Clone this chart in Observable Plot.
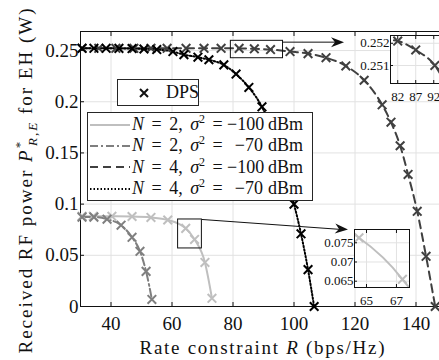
<!DOCTYPE html>
<html><head><meta charset="utf-8">
<script src="https://cdn.jsdelivr.net/npm/d3@7"></script>
<script src="https://cdn.jsdelivr.net/npm/@observablehq/plot@0.6"></script>
<style>
html,body{margin:0;padding:0;background:#fff;overflow:hidden;}
#wrap{position:relative;width:439px;height:360px;overflow:hidden;font-family:"Liberation Serif","Times New Roman","DejaVu Serif",serif;color:#111;}
#wrap > svg, #wrap > div{position:absolute;}
#wrap svg{max-width:none !important;}
.leg{background:#fff;border:1px solid #262626;box-sizing:border-box;font-size:18px;}
.row{position:absolute;left:0;height:21px;display:flex;align-items:center;white-space:nowrap;}
.row svg{margin-left:2px;margin-right:2px;flex:none;}
.p1{display:inline-block;width:95px;word-spacing:3px;}
.num{display:inline-block;width:36px;text-align:right;}
.unit{margin-left:5px;}
i{font-style:italic;}
</style></head><body><div id="wrap"></div>
<script>
// ---------- data ----------
const xTicks = [40, 60, 80, 100, 120, 140];
const yTicks = [0, 0.05, 0.1, 0.15, 0.2, 0.25];
const yTickLabels = ["0", "0.05", "0.1", "0.15", "0.2", "0.25"];

// N = 2, sigma^2 = -100 dBm
const R_N2_m100 = [30.5, 34.2, 40.3, 46.9, 53.1, 58.6, 64.5, 67.4, 70.8, 73.1];
const P_N2_m100 = [0.0882, 0.0882, 0.0881, 0.0879, 0.0870, 0.0845, 0.0763, 0.0655, 0.0430, 0.0080];
// N = 2, sigma^2 = -70 dBm
const R_N2_m70 = [30.5, 34.4, 38.7, 43.3, 46.9, 49.5, 51.5, 53.4];
const P_N2_m70 = [0.0873, 0.0873, 0.0853, 0.0794, 0.0676, 0.0539, 0.0343, 0.0069];
// N = 4, sigma^2 = -100 dBm
const R_N4_m100 = [30.5, 36, 41.6, 47.5, 53.1, 58.4, 64.6, 70.5, 76.1, 82, 87, 92.3, 98.7, 104.6, 110.5, 117, 123, 128.9, 131.8, 134.8, 137.4, 140.4, 143.3, 146.3];
const P_N4_m100 = [0.2522, 0.2522, 0.2522, 0.2522, 0.2522, 0.2522, 0.2522, 0.2522, 0.2522, 0.2521, 0.2517, 0.2510, 0.249, 0.247, 0.243, 0.235, 0.221, 0.197, 0.180, 0.157, 0.129, 0.093, 0.049, 0];
// N = 4, sigma^2 = -70 dBm
const R_N4_m70 = [30.5, 34.4, 38.4, 42.6, 46.9, 50.8, 55, 60.3, 63.9, 68.5, 72.1, 77, 81, 85.2, 89.5, 93.5, 97, 100, 102.3, 104.6, 106.6];
const P_N4_m70 = [0.2522, 0.2522, 0.2522, 0.2521, 0.2519, 0.2515, 0.251, 0.249, 0.246, 0.2435, 0.241, 0.236, 0.227, 0.214, 0.195, 0.167, 0.132, 0.100, 0.071, 0.036, 0];

const legendN = ["2", "2", "4", "4"];
const legendSigma = ["−100", "−70", "−100", "−70"];

// zoom boxes (data coordinates) and arrows
const zoomBoxR1 = [79.3, 96.4], zoomBoxP1 = [0.2425, 0.2595];
const zoomBoxR2 = [62, 69.8], zoomBoxP2 = [0.0567, 0.0850];
const arrowR1 = [96.4, 116.4], arrowP1 = [0.2582, 0.2582];
const arrowR2 = [69.8, 117.7], arrowP2 = [0.0850, 0.0752];

// inset domains and ticks
const inset1X = [80, 97.2], inset1Y = [0.25019, 0.25235];
const inset1XTicks = [82, 87, 92], inset1YTicks = [0.251, 0.252];
const inset2X = [64.2, 67.87], inset2Y = [0.06336, 0.07846];
const inset2XTicks = [65, 67], inset2YTicks = [0.065, 0.07, 0.075];

// ---------- styles ----------
const styles = [
  {R: R_N2_m100, P: P_N2_m100, color: "#bfbfbf", dash: null},
  {R: R_N2_m70, P: P_N2_m70, color: "#7f7f7f", dash: "8,3,2,3"},
  {R: R_N4_m100, P: P_N4_m100, color: "#404040", dash: "8,5"},
  {R: R_N4_m70, P: P_N4_m70, color: "#000000", dash: "1.5,2"}
];
const toRows = s => s.R.map((r, i) => ({R: r, P: s.P[i]}));

function seriesMarks(list, clip) {
  const marks = [];
  for (const s of list) {
    marks.push(Plot.line(toRows(s), {x: "R", y: "P", stroke: s.color, strokeWidth: 2, strokeDasharray: s.dash, curve: "monotone-x", clip}));
  }
  for (const s of list) {
    marks.push(Plot.dot(toRows(s), {x: "R", y: "P", symbol: "times", r: 4, stroke: s.color, strokeWidth: 2, clip}));
  }
  return marks;
}

const arrowHead = {
  draw(ctx) { ctx.moveTo(0, 0); ctx.lineTo(-13, -5); ctx.lineTo(-9, 0); ctx.lineTo(-13, 5); ctx.closePath(); }
};

const wrap = document.getElementById("wrap");
const fontStack = "'Liberation Serif', 'Times New Roman', 'DejaVu Serif', serif";

const main = Plot.plot({
  width: 450, height: 360,
  marginLeft: 80, marginRight: 4, marginTop: 31, marginBottom: 54,
  style: {fontFamily: fontStack, fontSize: "19px", color: "#111", background: "transparent", overflow: "visible", maxWidth: "none"},
  x: {domain: [30, 150]},
  y: {domain: [0, 0.2686]},
  marks: [
    Plot.gridX(xTicks, {stroke: "#e2e2e2", strokeOpacity: 1}),
    Plot.gridY(yTicks, {stroke: "#e2e2e2", strokeOpacity: 1}),
    Plot.frame({stroke: "#111"}),
    Plot.axisX(xTicks, {anchor: "bottom", tickSize: -4, tickPadding: 14, label: null, tickFormat: d => String(d)}),
    Plot.axisX(xTicks, {anchor: "top", tickSize: -4, label: null, tickFormat: () => ""}),
    Plot.axisY(yTicks, {anchor: "left", tickSize: -4, tickPadding: 6, label: null, tickFormat: d => yTickLabels[yTicks.indexOf(d)]}),
    ...seriesMarks(styles, false),
    Plot.rect([{x1: zoomBoxR1[0], x2: zoomBoxR1[1], y1: zoomBoxP1[0], y2: zoomBoxP1[1]},
               {x1: zoomBoxR2[0], x2: zoomBoxR2[1], y1: zoomBoxP2[0], y2: zoomBoxP2[1]}],
      {x1: "x1", x2: "x2", y1: "y1", y2: "y2", fill: "none", stroke: "#111", strokeWidth: 1}),
    Plot.link([{x1: arrowR1[0], x2: arrowR1[1] - 2, y1: arrowP1[0], y2: arrowP1[1]},
               {x1: arrowR2[0], x2: arrowR2[1] - 2, y1: arrowP2[0], y2: arrowP2[1]}],
      {x1: "x1", x2: "x2", y1: "y1", y2: "y2", stroke: "#111", strokeWidth: 1}),
    Plot.dot([{x: arrowR1[1], y: arrowP1[1], a: 0}, {x: arrowR2[1], y: arrowP2[1], a: 4}],
      {x: "x", y: "y", symbol: arrowHead, rotate: "a", fill: "#111", stroke: "none", r: 5})
  ]
});
main.style.left = "0px"; main.style.top = "0px"; main.style.maxWidth = "none";
wrap.appendChild(main);

// axis labels with math formatting
const svg = d3.select(main);
const yl = svg.append("text").attr("transform", "translate(32,181) rotate(-90)")
  .attr("text-anchor", "middle").attr("font-size", 19).attr("fill", "#111")
  .attr("textLength", 345).attr("lengthAdjust", "spacing");
yl.append("tspan").text("Received RF power ");
yl.append("tspan").attr("font-style", "italic").text("P");
yl.append("tspan").attr("font-size", 13).attr("dy", -8).text("*");
yl.append("tspan").attr("font-size", 13).attr("font-style", "italic").attr("dx", -6).attr("dy", 13).text("R,E");
yl.append("tspan").attr("dy", -5).text(" for EH (W)");

const xl = svg.append("text").attr("x", 262).attr("y", 354)
  .attr("text-anchor", "middle").attr("font-size", 19).attr("fill", "#111")
  .attr("textLength", 245).attr("lengthAdjust", "spacing");
xl.append("tspan").text("Rate constraint ");
xl.append("tspan").attr("font-style", "italic").text("R");
xl.append("tspan").text(" (bps/Hz)");

// insets
function inset(opts) {
  const p = Plot.plot({
    width: opts.width, height: opts.height,
    marginLeft: 40, marginRight: opts.mr, marginTop: 4, marginBottom: opts.height - 4 - opts.ph,
    style: {fontFamily: fontStack, fontSize: "13px", color: "#111", background: "transparent", overflow: "visible", maxWidth: "none"},
    x: {domain: opts.xd}, y: {domain: opts.yd},
    marks: [
      Plot.frame({fill: "white", stroke: "none"}),
      Plot.gridX(opts.xt, {stroke: "#e2e2e2", strokeOpacity: 1}),
      Plot.gridY(opts.yt, {stroke: "#e2e2e2", strokeOpacity: 1}),
      ...seriesMarks(opts.series, true),
      Plot.frame({stroke: "#111"}),
      Plot.axisX(opts.xt, {anchor: "bottom", tickSize: -3, tickPadding: 11, label: null, tickFormat: d => String(d)}),
      Plot.axisX(opts.xt, {anchor: "top", tickSize: -3, label: null, tickFormat: () => ""}),
      Plot.axisY(opts.yt, {anchor: "left", tickSize: -3, tickPadding: 4, label: null, tickFormat: d => String(d)})
    ]
  });
  p.style.left = opts.left + "px"; p.style.top = opts.top + "px"; p.style.maxWidth = "none";
  wrap.appendChild(p);
}
inset({left: 350, top: 31, width: 102, height: 70, ph: 48, mr: 0, xd: inset1X, yd: inset1Y, xt: inset1XTicks, yt: inset1YTicks, series: [styles[2]]});
inset({left: 314, top: 225, width: 96, height: 80, ph: 58, mr: 1, xd: inset2X, yd: inset2Y, xt: inset2XTicks, yt: inset2YTicks, series: [styles[0]]});

// legends
const leg1 = document.createElement("div");
leg1.className = "leg";
Object.assign(leg1.style, {left: "117px", top: "79px", width: "82px", height: "27px"});
leg1.innerHTML = `<div class="row" style="top:2px;left:18px"><svg width="12" height="12"><path d="M2,2L10,10M10,2L2,10" stroke="#111" stroke-width="2"/></svg><span style="margin-left:14px">DPS</span></div>`;
wrap.appendChild(leg1);

const leg2 = document.createElement("div");
leg2.className = "leg";
Object.assign(leg2.style, {left: "87px", top: "112px", width: "226px", height: "89px"});
let html = "";
styles.forEach((s, i) => {
  const dash = s.dash ? `stroke-dasharray="${s.dash}"` : "";
  html += `<div class="row" style="top:${1 + i * 21.4}px"><svg width="40" height="10"><line x1="0" y1="5" x2="40" y2="5" stroke="${s.color}" stroke-width="2" ${dash}/></svg>` +
    `<span class="p1"><i>N</i> = ${legendN[i]}, <i>σ</i><sup style="font-size:12px;line-height:0">2</sup> =</span><span class="num">${legendSigma[i]}</span><span class="unit">dBm</span></div>`;
});
leg2.innerHTML = html;
wrap.appendChild(leg2);
</script>
</body></html>
